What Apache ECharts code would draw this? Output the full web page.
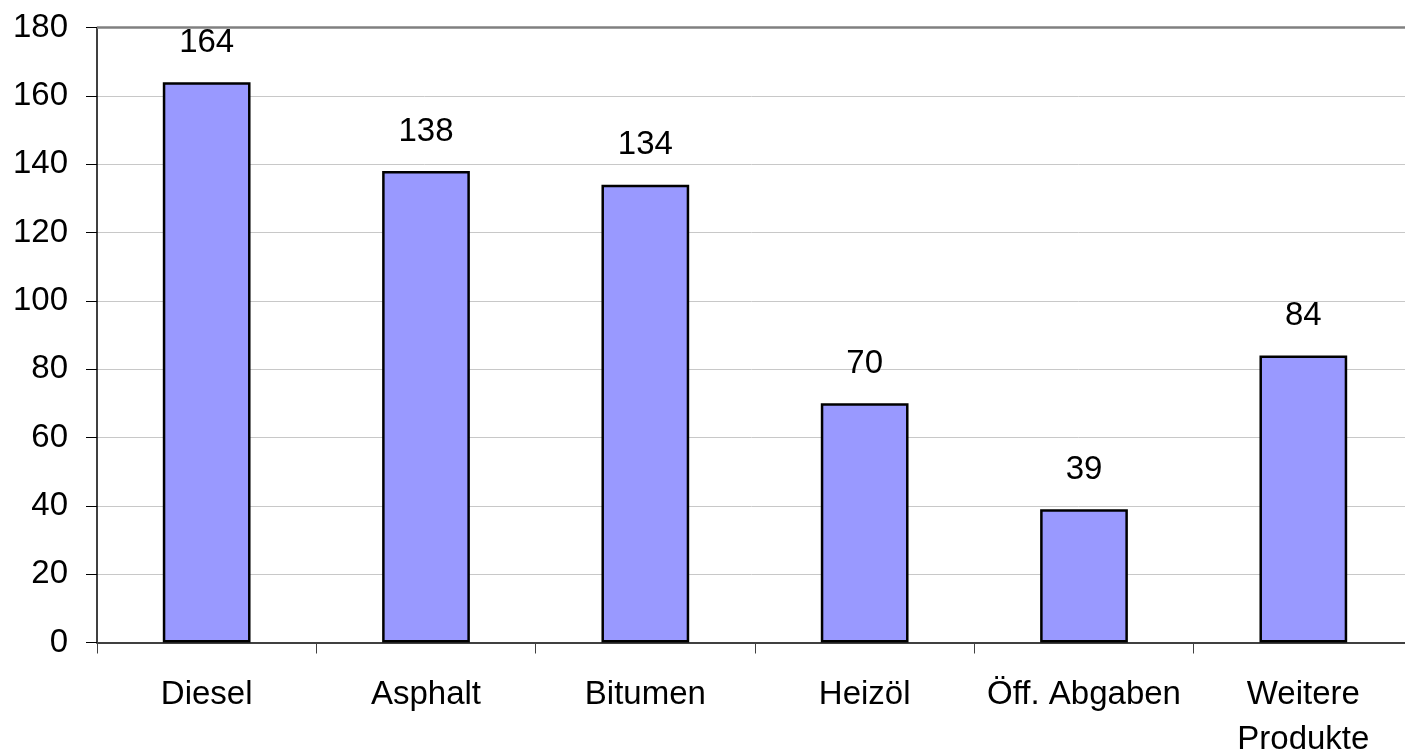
<!DOCTYPE html>
<html>
<head>
<meta charset="utf-8">
<script src="https://cdn.jsdelivr.net/npm/echarts@6/dist/echarts.min.js"></script>
<style>html,body{margin:0;padding:0;background:#fff}#c{width:1405px;height:752px}</style>
</head>
<body>
<div id="c"></div>
<script>
const categories = ['Diesel', 'Asphalt', 'Bitumen', 'Heizöl', 'Öff. Abgaben', 'Weitere\nProdukte'];
const values = [164, 138, 134, 70, 39, 84];
const yMin = 0, yMax = 180, yStep = 20;

const chart = echarts.init(document.getElementById('c'), null, {renderer: 'canvas'});
const font = '"Liberation Sans", Arial, sans-serif';
chart.setOption({
  animation: false,
  backgroundColor: '#ffffff',
  grid: {left: 97, top: 27.5, bottom: 109.5, right: -8, containLabel: false, outerBoundsMode: 'none'},
  xAxis: {
    type: 'category',
    data: categories,
    axisLine: {show: true, lineStyle: {color: '#404040', width: 2}},
    axisTick: {show: true, length: 11, lineStyle: {color: '#404040', width: 1}},
    axisLabel: {color: '#000', fontFamily: font, fontSize: 33, lineHeight: 45, margin: 30, interval: 0}
  },
  yAxis: {
    type: 'value',
    min: yMin, max: yMax, interval: yStep,
    axisLine: {show: true, lineStyle: {color: '#000', width: 1.5}},
    axisTick: {show: true, length: 11, lineStyle: {color: '#000', width: 1}},
    axisLabel: {color: '#000', fontFamily: font, fontSize: 33, margin: 29, padding: [0, 0, 6, 0]},
    splitLine: {show: true, lineStyle: {color: '#c8c8c8', width: 1}}
  },
  series: [{
    type: 'bar',
    data: values,
    barWidth: '40%',
    itemStyle: {color: '#9999ff', borderColor: '#000', borderWidth: 2.5},
    label: {show: true, position: 'top', distance: 23, color: '#000', fontFamily: font, fontSize: 33},
    markLine: {
      silent: true, symbol: 'none', label: {show: false},
      lineStyle: {color: '#808080', width: 2.5, type: 'solid'},
      data: [{yAxis: yMax}]
    }
  }]
});
</script>
</body>
</html>
